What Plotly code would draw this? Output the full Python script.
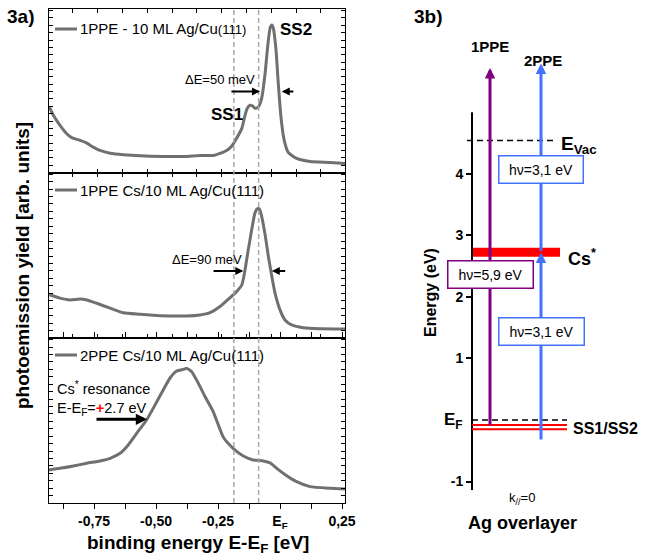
import plotly.graph_objects as go

W, H = 646, 558
FONT = "Liberation Sans, Arial, Helvetica, sans-serif"
GREY = "#707070"
GUIDE = "#a9a9a9"
PURPLE = "#800080"
BLUE = "#4272ff"
RED = "#ff0000"

# ---------------- 3a) spectra : binding energy E-E_F [eV] vs yield [arb. units] ----------------
ag_1ppe_x = [-0.930, -0.914, -0.887, -0.860, -0.840, -0.806, -0.779, -0.753, -0.726, -0.685, -0.632,
             -0.524, -0.390, -0.323, -0.269, -0.242, -0.215, -0.195, -0.175, -0.154, -0.141, -0.132,
             -0.121, -0.109, -0.101, -0.088, -0.074, -0.060, -0.050, -0.040, -0.033, -0.027, -0.016,
             -0.007, 0.004, 0.017, 0.033, 0.067, 0.121, 0.202, 0.262]
ag_1ppe_y = [40.1, 35.0, 28.8, 23.7, 21.3, 19.6, 18.0, 15.5, 13.5, 11.8, 10.9,
             10.0, 9.8, 10.4, 10.4, 11.7, 13.5, 16.0, 20.9, 27.0, 35.0, 39.3,
             41.1, 40.5, 39.3, 39.9, 45.4, 60.7, 76.7, 88.3, 90.2, 88.3, 74.8,
             54.6, 33.7, 19.6, 12.3, 8.6, 6.7, 6.1, 5.5]

cs_1ppe_x = [-0.930, -0.887, -0.847, -0.806, -0.779, -0.739, -0.685, -0.632, -0.565, -0.484, -0.376,
             -0.323, -0.282, -0.242, -0.208, -0.181, -0.154, -0.141, -0.128, -0.114, -0.101, -0.092,
             -0.083, -0.074, -0.060, -0.047, -0.033, -0.020, 0.000, 0.020, 0.047, 0.094, 0.161, 0.262]
cs_1ppe_y = [26.1, 24.1, 23.0, 23.5, 23.0, 21.0, 18.0, 15.3, 14.4, 13.5, 13.3,
             13.9, 15.3, 19.0, 23.5, 27.1, 32.1, 41.2, 53.3, 65.5, 75.6, 78.0,
             78.0, 73.5, 62.4, 49.3, 37.2, 27.1, 17.0, 10.9, 7.9, 6.2, 5.6, 5.5]

cs_2ppe_x = [-0.934, -0.887, -0.833, -0.779, -0.726, -0.685, -0.645, -0.612, -0.578, -0.538, -0.504,
             -0.471, -0.444, -0.417, -0.390, -0.376, -0.356, -0.329, -0.302, -0.269, -0.229, -0.188,
             -0.148, -0.108, -0.067, -0.040, -0.013, 0.027, 0.067, 0.121, 0.202, 0.262]
cs_2ppe_y = [20.0, 21.0, 22.4, 24.1, 25.5, 27.1, 30.1, 35.2, 42.2, 50.3, 59.4,
             68.5, 75.6, 80.0, 81.0, 81.6, 79.6, 72.5, 64.4, 55.3, 40.0, 33.0,
             28.5, 26.1, 25.5, 24.3, 21.0, 16.5, 12.9, 9.9, 8.9, 8.5]

spectra_names = ["1PPE - 10 ML Ag/Cu<span style='font-size:13px'>(111)</span>",
                 "1PPE Cs/10 ML Ag/Cu(111)", "2PPE Cs/10 ML Ag/Cu(111)"]
guide_energies = [-0.186, -0.086]
x_tick_vals = [-0.875, -0.75, -0.625, -0.5, -0.375, -0.25, -0.125, 0.0, 0.125, 0.25]
x_tick_text = ["", "-0,75", "", "-0,50", "", "-0,25", "", "E<sub>F</sub>", "", "0,25"]

# ---------------- 3b) energy diagram (eV relative to E_F) ----------------
e_vac = 4.54
cs_star = [2.65, 2.80]
e_f = 0.0
ss_levels = [-0.08, -0.15]
ppe1_span = [-0.11, 5.72]
ppe2_span = [-0.34, 2.72, 5.79]
energy_ticks = [-1, 1, 2, 3, 4]
energy_tick_text = ["-1", "1", "2", "3", "4"]


def PX(x):
    return x / W


def PY(y):
    return 1 - y / H


def f(size, bold=False, color="black"):
    d = dict(family=FONT, size=size, color=color)
    if bold:
        d["weight"] = "bold"
    return d


def txt(x_px, y_px, text, size, bold=False, xanchor="center", angle=0):
    return dict(xref="paper", yref="paper", x=PX(x_px), y=PY(y_px), text=text, showarrow=False,
                xanchor=xanchor, yanchor="middle", textangle=angle, font=f(size, bold))


fig = go.Figure()
line_style = dict(color=GREY, width=3, shape="spline", smoothing=0.5)
for i, (xs, ys) in enumerate([(ag_1ppe_x, ag_1ppe_y), (cs_1ppe_x, cs_1ppe_y), (cs_2ppe_x, cs_2ppe_y)]):
    sfx = "" if i == 0 else str(i + 1)
    fig.add_trace(go.Scatter(x=xs, y=ys, mode="lines", line=line_style,
                             xaxis="x" + sfx, yaxis="y" + sfx, showlegend=False, hoverinfo="skip"))

# right diagram traces
rk = dict(xaxis="x4", yaxis="y4", showlegend=False, hoverinfo="skip", mode="lines")
fig.add_trace(go.Scatter(x=[0, 88, 88, 0, 0], y=[cs_star[0], cs_star[0], cs_star[1], cs_star[1], cs_star[0]],
                         fill="toself", fillcolor=RED, line=dict(width=0, color=RED), **rk))
fig.add_trace(go.Scatter(x=[0, 0], y=[-1.14, 5.0], line=dict(color="black", width=2), **rk))
fig.add_trace(go.Scatter(x=[-5, 81], y=[e_vac, e_vac], line=dict(color="black", width=1.5, dash="6px,4px"), **rk))
fig.add_trace(go.Scatter(x=[0, 95], y=[e_f, e_f], line=dict(color="black", width=1.5, dash="6px,4px"), **rk))
for lv in ss_levels:
    fig.add_trace(go.Scatter(x=[0, 95], y=[lv, lv], line=dict(color=RED, width=2), **rk))

# ---------------- axes ----------------
left_dom = [PX(49), PX(345)]
doms = [[PY(172.5), PY(9)], [PY(338), PY(172.5)], [PY(503), PY(338)]]
common_x = dict(domain=left_dom, range=[-0.9315, 0.2621], showline=True, linecolor="black", linewidth=1,
                mirror="ticks", showgrid=False, zeroline=False, tickcolor="black")
common_y = dict(range=[0, 100], showline=True, linecolor="black", linewidth=1, mirror="ticks",
                ticks="inside", ticklen=4, tick0=0, dtick=4.5, showticklabels=False,
                showgrid=False, zeroline=False, tickcolor="black")

layout = dict(
    width=W, height=H, margin=dict(l=0, r=0, t=0, b=0),
    paper_bgcolor="white", plot_bgcolor="white", template="none",
    font=f(14), showlegend=False,
    xaxis=dict(common_x, anchor="y", ticks="inside", ticklen=4, tick0=-0.935, dtick=0.1, showticklabels=False),
    yaxis=dict(common_y, domain=doms[0], anchor="x"),
    xaxis2=dict(common_x, anchor="y2", ticks="inside", ticklen=4, tick0=-0.935, dtick=0.1, showticklabels=False),
    yaxis2=dict(common_y, domain=doms[1], anchor="x2"),
    xaxis3=dict(common_x, anchor="y3", ticks="outside", ticklen=5, tickmode="array",
                tickvals=x_tick_vals, ticktext=x_tick_text, tickfont=f(14, True)),
    yaxis3=dict(common_y, domain=doms[2], anchor="x3"),
    xaxis4=dict(domain=[PX(440), 1.0], range=[-32, 174], visible=False, anchor="y4"),
    yaxis4=dict(domain=[PY(490.18), PY(50.64)], range=[-1.14, 6.0], anchor="free", position=PX(472),
                showline=False, showgrid=False, zeroline=False, ticks="outside", ticklen=6, tickwidth=2,
                tickcolor="black", tickmode="array", tickvals=energy_ticks, ticktext=energy_tick_text,
                tickfont=f(14, True)),
)
fig.update_layout(**layout)

shapes = []
for g in guide_energies:
    shapes.append(dict(type="line", xref="x", yref="paper", x0=g, x1=g, y0=PY(503), y1=PY(9),
                       line=dict(color=GUIDE, width=1.5, dash="5px,3px"), layer="above"))
# legend samples
for (y_px) in [29, 190, 355]:
    shapes.append(dict(type="line", xref="paper", yref="paper", x0=PX(55), x1=PX(77), y0=PY(y_px), y1=PY(y_px),
                       line=dict(color=GREY, width=3)))
fig.update_layout(shapes=shapes)

ann = []
# legend texts
for name, y_px in zip(spectra_names, [29, 190, 355]):
    ann.append(txt(78, y_px, name, 15, xanchor="left"))

# panel labels & titles
ann.append(txt(20, 16, "3a)", 19, True))
ann.append(txt(428, 16, "3b)", 19, True))
ann.append(txt(23, 266, "photoemission yield [arb. units]", 19, True, angle=-90))
ann.append(txt(198, 544, "binding energy E-E<sub>F</sub> [eV]", 19, True))


def dtxt(xr, yr, x, y, text, size, bold=False, xanchor="center"):
    return dict(xref=xr, yref=yr, x=x, y=y, text=text, showarrow=False, xanchor=xanchor,
                yanchor="middle", font=f(size, bold))


# panel 1 annotations
ann.append(dtxt("x", "y", -0.008, 87.7, "SS2", 17, True, "left"))
ann.append(dtxt("x", "y", -0.141, 35.6, "SS1", 17, True, "right"))
ann.append(dtxt("x", "y", -0.242, 56.8, "ΔE=50 meV", 13))
arrow_k = dict(showarrow=True, arrowhead=2, arrowsize=0.8, arrowwidth=2, arrowcolor="black", text="")
ann.append(dict(xref="x", yref="y", axref="x", ayref="y", x=-0.081, y=49.5, ax=-0.202, ay=49.5, **arrow_k))
ann.append(dict(xref="x", yref="y", axref="x", ayref="y", x=0.007, y=49.5, ax=0.060, ay=49.5, **arrow_k))
# panel 2 annotations
ann.append(dtxt("x2", "y2", -0.294, 47.3, "ΔE=90 meV", 13))
ann.append(dict(xref="x2", yref="y2", axref="x2", ayref="y2", x=-0.148, y=40.5, ax=-0.274, ay=40.5, **arrow_k))
ann.append(dict(xref="x2", yref="y2", axref="x2", ayref="y2", x=-0.033, y=40.5, ax=0.027, ay=40.5, **arrow_k))
# panel 3 annotations
ann.append(dtxt("x3", "y3", -0.907, 63.5,
                "Cs<sup>*</sup> resonance<br>E-E<sub>F</sub>=<span style='color:red'><b>+</b></span>2.7 eV",
                14.5, False, "left"))
ann[-1]["align"] = "left"
ann.append(dict(xref="x3", yref="y3", axref="x3", ayref="y3", x=-0.536, y=50.7, ax=-0.746, ay=50.7,
                showarrow=True, arrowhead=2, arrowsize=0.75, arrowwidth=3, arrowcolor="black", text=""))

# right diagram arrows
ra = dict(xref="x4", yref="y4", axref="x4", ayref="y4", showarrow=True, arrowhead=2, arrowsize=0.7,
          arrowwidth=3, text="")
ann.append(dict(x=18, y=ppe1_span[1], ax=18, ay=ppe1_span[0], arrowcolor=PURPLE, **ra))
ann.append(dict(x=69, y=ppe2_span[1], ax=69, ay=ppe2_span[0], arrowcolor=BLUE, **ra))
ann.append(dict(x=69, y=ppe2_span[2], ax=69, ay=ppe2_span[1], arrowcolor=BLUE, **ra))

# photon boxes
box = dict(xref="paper", yref="paper", showarrow=False, bgcolor="white", borderwidth=1.5, borderpad=1,
           font=f(14), height=24, xanchor="center", yanchor="middle")
ann.append(dict(x=PX(541), y=PY(169.5), text="hν=3,1 eV", bordercolor=BLUE, width=81, **box))
ann.append(dict(x=PX(541.5), y=PY(331.5), text="hν=3,1 eV", bordercolor=BLUE, width=82, **box))
ann.append(dict(x=PX(490.5), y=PY(274), text="hν=5,9 eV", bordercolor=PURPLE, width=82, **box))

# diagram labels
ann.append(txt(490, 46, "1PPE", 15, True))
ann.append(txt(542.5, 60, "2PPE", 15, True))
ann.append(txt(559, 145, "E<sub>Vac</sub>", 19, True, "left"))
ann.append(txt(566, 257, "Cs<sup>*</sup>", 18, True, "left"))
ann.append(txt(465, 421, "E<sub>F</sub>", 17, True, "right"))
ann.append(txt(571, 428, "SS1/SS2", 16, True, "left"))
ann.append(txt(430, 293, "Energy (eV)", 16, True, angle=-90))
ann.append(txt(522, 499, "k<sub>//</sub>=0", 13))
ann.append(txt(522, 523, "Ag overlayer", 18, True))

fig.update_layout(annotations=ann)
fig.write_html("out.html", config={"displayModeBar": False},
               post_script="document.body.style.margin='0';document.body.style.overflow='hidden';")
